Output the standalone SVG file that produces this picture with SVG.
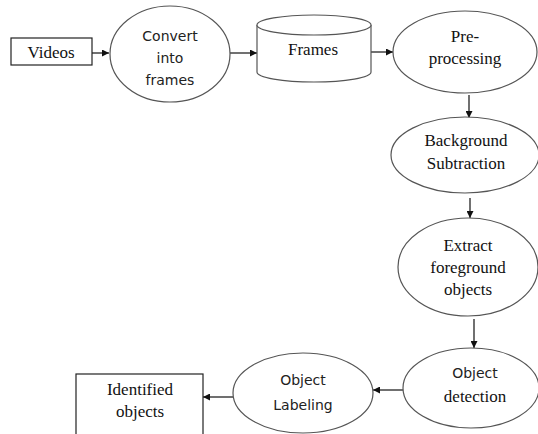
<svg xmlns="http://www.w3.org/2000/svg" width="538" height="434" viewBox="0 0 538 434">
<defs>
<style>
.sh{fill:#fff;stroke:#555;stroke-width:1.2}
.bx{fill:#fff;stroke:#222;stroke-width:1.2}
.sf{font-family:'Liberation Serif','Times New Roman',serif;font-size:17px;fill:#111;text-anchor:middle}
.ss{font-family:'DejaVu Sans',sans-serif;font-size:14px;fill:#222;text-anchor:middle}
.cn{stroke:#111;stroke-width:1.2;fill:none;marker-end:url(#ah)}
</style>
<marker id="ah" viewBox="0 0 10 10" refX="10" refY="5" markerWidth="7" markerHeight="7" markerUnits="userSpaceOnUse" orient="auto">
<path d="M0,0 L10,5 L0,10 z" fill="#111"/>
</marker>
</defs>
<rect width="538" height="434" fill="#fff"/>
<g id="connectors">
<line class="cn" x1="92" y1="53" x2="109" y2="53"/>
<line class="cn" x1="230" y1="53" x2="257" y2="53"/>
<line class="cn" x1="371" y1="52" x2="393" y2="52"/>
<line class="cn" x1="469" y1="95" x2="469" y2="118"/>
<line class="cn" x1="470" y1="198" x2="470" y2="218"/>
<line class="cn" x1="474" y1="319" x2="474" y2="348"/>
<line class="cn" x1="403" y1="390" x2="373" y2="390"/>
<line class="cn" x1="233" y1="397" x2="203" y2="397"/>
</g>
<g id="videos">
<rect class="bx" x="11" y="38" width="81" height="27"/>
<text class="sf" x="51" y="58">Videos</text>
</g>
<g id="convert">
<ellipse class="sh" cx="170" cy="54" rx="60" ry="48"/>
<text class="ss" x="170" y="41">Convert</text>
<text class="ss" x="170" y="63">into</text>
<text class="ss" x="170" y="85">frames</text>
</g>
<g id="frames">
<path class="sh" d="M257,25 L257,72 A57,10 0 0 0 371,72 L371,25"/>
<ellipse class="sh" cx="314" cy="25" rx="57" ry="10"/>
<text class="sf" x="313" y="55">Frames</text>
</g>
<g id="preprocessing">
<ellipse class="sh" cx="465" cy="52" rx="72" ry="41"/>
<text class="sf" x="465" y="42">Pre-</text>
<text class="sf" x="465" y="64">processing</text>
</g>
<g id="background">
<ellipse class="sh" cx="465" cy="155" rx="74" ry="38"/>
<text class="sf" x="466" y="146">Background</text>
<text class="sf" x="466" y="169">Subtraction</text>
</g>
<g id="extract">
<ellipse class="sh" cx="468" cy="267" rx="70" ry="49"/>
<text class="sf" x="468" y="251">Extract</text>
<text class="sf" x="468" y="273">foreground</text>
<text class="sf" x="468" y="295">objects</text>
</g>
<g id="detection">
<ellipse class="sh" cx="471" cy="388" rx="68" ry="40"/>
<text class="ss" x="475" y="378">Object</text>
<text class="sf" x="475" y="402">detection</text>
</g>
<g id="labeling">
<ellipse class="sh" cx="303" cy="393" rx="70" ry="40"/>
<text class="ss" x="303" y="385">Object</text>
<text class="ss" x="303" y="410">Labeling</text>
</g>
<g id="identified">
<rect class="bx" x="76" y="374" width="127" height="70"/>
<text class="sf" x="140" y="395">Identified</text>
<text class="sf" x="140" y="417">objects</text>
</g>
</svg>
